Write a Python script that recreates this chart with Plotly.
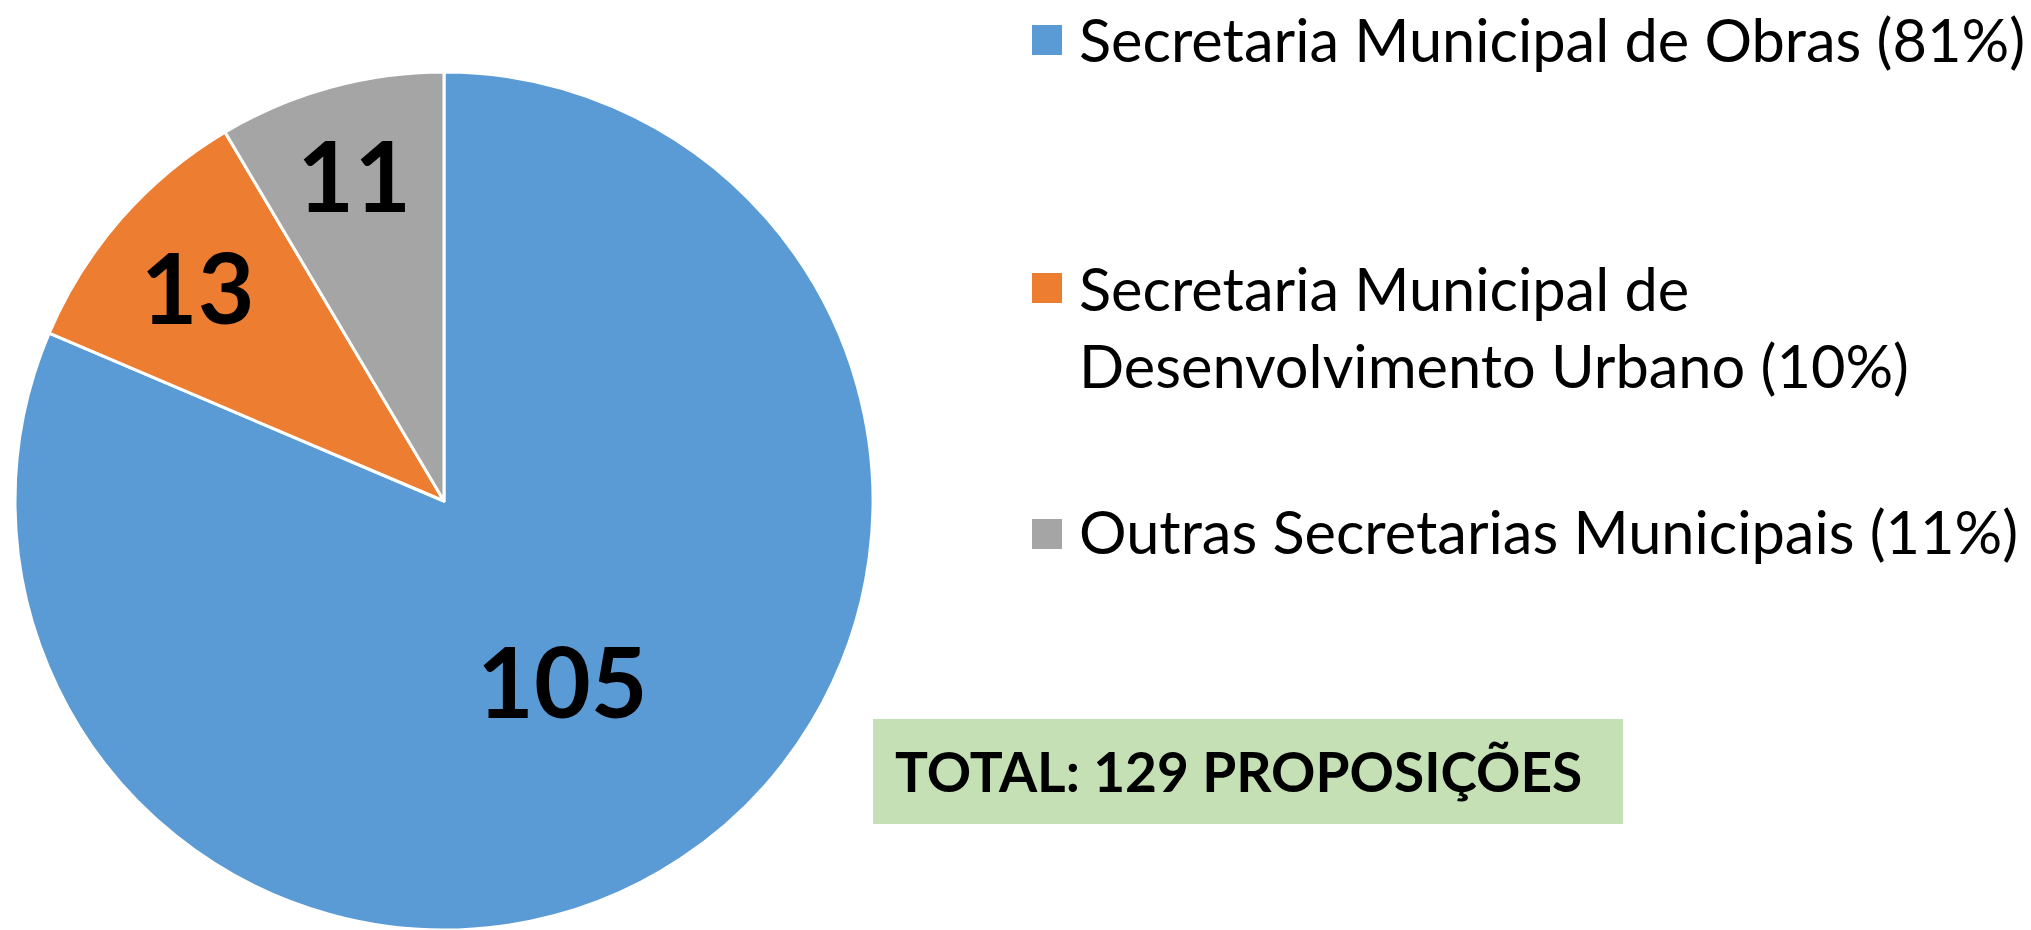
import plotly.graph_objects as go

labels = ["Secretaria Municipal de Obras", "Secretaria Municipal de Desenvolvimento Urbano", "Outras Secretarias Municipais"]
legend_text = ["Secretaria Municipal de Obras (81%)",
               "Secretaria Municipal de<br>Desenvolvimento Urbano (10%)",
               "Outras Secretarias Municipais (11%)"]
values = [105, 13, 11]
colors = ["#5B9BD5", "#ED7D31", "#A5A5A5"]
total_text = "TOTAL: 129 PROPOSIÇÕES"

W, H = 2031, 930

fig = go.Figure()
fig.add_trace(go.Pie(
    labels=labels, values=values, sort=False, direction="clockwise", rotation=0,
    marker=dict(colors=colors, line=dict(color="white", width=3)),
    texttemplate="%{value}", textposition="inside", insidetextorientation="horizontal",
    insidetextfont=dict(family="Lato", size=98, color="black", weight="bold"),
    domain=dict(x=[15 / W, 873 / W], y=[0, 1 - 72 / H]),
    showlegend=False, hoverinfo="label+value+percent",
))

# legend drawn as annotations + squares
leg_y = [39, 327, 531]       # px from top, centre of each entry
sq_y = [40, 288, 534]
for i, txt in enumerate(legend_text):
    fig.add_shape(type="rect", xref="paper", yref="paper",
                  x0=1032 / W, x1=1062 / W,
                  y0=1 - (sq_y[i] + 15) / H, y1=1 - (sq_y[i] - 15) / H,
                  fillcolor=colors[i], line=dict(width=0))
    fig.add_annotation(text=txt, xref="paper", yref="paper",
                       x=1078 / W, y=1 - leg_y[i] / H, xanchor="left", yanchor="middle",
                       align="left", showarrow=False, borderpad=0,
                       font=dict(family="Lato", size=59.5, color="black"))

fig.add_shape(type="rect", xref="paper", yref="paper",
              x0=873 / W, x1=1623 / W, y0=1 - 824 / H, y1=1 - 719 / H,
              fillcolor="#C5E0B4", line=dict(width=0))
fig.add_annotation(text=total_text, xref="paper", yref="paper",
                   x=893 / W, y=1 - 771 / H, xanchor="left", yanchor="middle",
                   showarrow=False,
                   font=dict(family="Lato", size=55, color="black", weight="bold"))

fig.update_layout(width=W, height=H, margin=dict(l=0, r=0, t=0, b=0),
                  paper_bgcolor="white", plot_bgcolor="white")
fig.write_html("out.html", config={"displayModeBar": False},
               post_script="document.body.style.margin='0px';document.body.style.overflow='hidden';")
